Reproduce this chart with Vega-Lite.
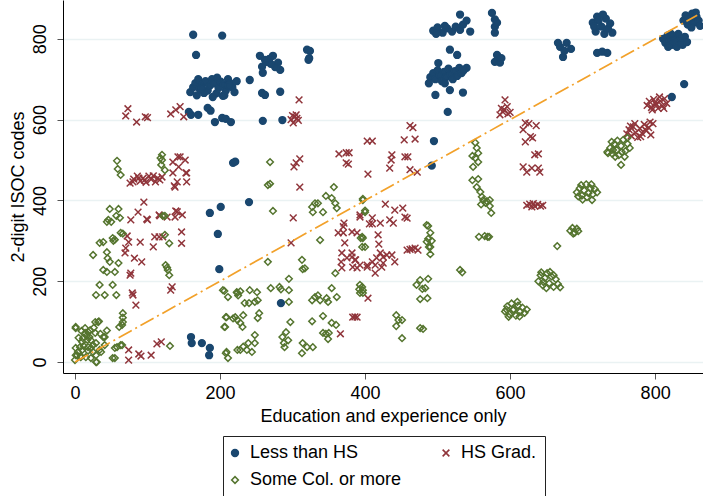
{
  "$schema": "https://vega.github.io/schema/vega-lite/v6.json",
  "width": 640,
  "height": 373,
  "autosize": {"type": "none"},
  "padding": {"left": 63, "top": 0, "right": 0, "bottom": 123},
  "background": "white",
  "config": {
    "font": "Liberation Sans",
    "view": {"stroke": null},
    "axis": {
      "labelFont": "Liberation Sans",
      "titleFont": "Liberation Sans",
      "labelFontSize": 18,
      "titleFontSize": 18,
      "titleFontWeight": "normal",
      "labelColor": "black",
      "titleColor": "black",
      "domainColor": "black",
      "domainWidth": 1,
      "tickColor": "#555555",
      "tickSize": 6,
      "tickWidth": 1,
      "gridColor": "#eaf2f3",
      "gridWidth": 1.5
    },
    "legend": {
      "labelFont": "Liberation Sans",
      "labelFontSize": 18,
      "labelColor": "black",
      "symbolSize": 34,
      "symbolStrokeWidth": 1.6
    }
  },
  "layer": [
    {
      "data": {
        "values": [
          {"x":163,"y":810,"g":"Less than HS"},{"x":203,"y":808,"g":"Less than HS"},{"x":167,"y":760,"g":"Less than HS"},
          {"x":159,"y":668,"g":"Less than HS"},{"x":163,"y":680,"g":"Less than HS"},{"x":166,"y":690,"g":"Less than HS"},{"x":170,"y":700,"g":"Less than HS"},{"x":172,"y":676,"g":"Less than HS"},{"x":176,"y":688,"g":"Less than HS"},{"x":180,"y":695,"g":"Less than HS"},{"x":183,"y":672,"g":"Less than HS"},{"x":186,"y":684,"g":"Less than HS"},{"x":189,"y":700,"g":"Less than HS"},{"x":192,"y":690,"g":"Less than HS"},{"x":195,"y":665,"g":"Less than HS"},{"x":198,"y":678,"g":"Less than HS"},{"x":201,"y":694,"g":"Less than HS"},{"x":205,"y":686,"g":"Less than HS"},{"x":208,"y":672,"g":"Less than HS"},{"x":211,"y":700,"g":"Less than HS"},{"x":214,"y":690,"g":"Less than HS"},{"x":217,"y":680,"g":"Less than HS"},{"x":220,"y":668,"g":"Less than HS"},{"x":223,"y":695,"g":"Less than HS"},{"x":168,"y":660,"g":"Less than HS"},{"x":190,"y":656,"g":"Less than HS"},{"x":206,"y":660,"g":"Less than HS"},{"x":178,"y":666,"g":"Less than HS"},{"x":196,"y":704,"g":"Less than HS"},{"x":212,"y":684,"g":"Less than HS"},{"x":175,"y":678,"g":"Less than HS"},
          {"x":157,"y":619,"g":"Less than HS"},{"x":160,"y":612,"g":"Less than HS"},{"x":170,"y":612,"g":"Less than HS"},{"x":183,"y":629,"g":"Less than HS"},{"x":187,"y":622,"g":"Less than HS"},{"x":193,"y":594,"g":"Less than HS"},{"x":203,"y":604,"g":"Less than HS"},{"x":208,"y":602,"g":"Less than HS"},{"x":215,"y":594,"g":"Less than HS"},{"x":204,"y":659,"g":"Less than HS"},{"x":218,"y":493,"g":"Less than HS"},{"x":221,"y":496,"g":"Less than HS"},
          {"x":241,"y":698,"g":"Less than HS"},{"x":258,"y":666,"g":"Less than HS"},{"x":262,"y":661,"g":"Less than HS"},{"x":283,"y":669,"g":"Less than HS"},{"x":259,"y":597,"g":"Less than HS"},{"x":286,"y":599,"g":"Less than HS"},
          {"x":255,"y":758,"g":"Less than HS"},{"x":264,"y":743,"g":"Less than HS"},{"x":273,"y":758,"g":"Less than HS"},{"x":280,"y":741,"g":"Less than HS"},{"x":258,"y":731,"g":"Less than HS"},{"x":259,"y":716,"g":"Less than HS"},{"x":283,"y":723,"g":"Less than HS"},{"x":268,"y":750,"g":"Less than HS"},{"x":276,"y":730,"g":"Less than HS"},{"x":270,"y":738,"g":"Less than HS"},{"x":262,"y":748,"g":"Less than HS"},
          {"x":320,"y":773,"g":"Less than HS"},{"x":322,"y":748,"g":"Less than HS"},{"x":324,"y":770,"g":"Less than HS"},{"x":323,"y":752,"g":"Less than HS"},
          {"x":186,"y":369,"g":"Less than HS"},{"x":201,"y":384,"g":"Less than HS"},{"x":197,"y":317,"g":"Less than HS"},{"x":199,"y":230,"g":"Less than HS"},{"x":160,"y":62,"g":"Less than HS"},{"x":161,"y":47,"g":"Less than HS"},{"x":175,"y":47,"g":"Less than HS"},{"x":186,"y":35,"g":"Less than HS"},{"x":185,"y":17,"g":"Less than HS"},{"x":240,"y":396,"g":"Less than HS"},{"x":284,"y":146,"g":"Less than HS"},
          {"x":494,"y":820,"g":"Less than HS"},{"x":500,"y":828,"g":"Less than HS"},{"x":507,"y":815,"g":"Less than HS"},{"x":513,"y":826,"g":"Less than HS"},{"x":520,"y":818,"g":"Less than HS"},{"x":525,"y":830,"g":"Less than HS"},{"x":531,"y":822,"g":"Less than HS"},{"x":498,"y":812,"g":"Less than HS"},{"x":510,"y":832,"g":"Less than HS"},
          {"x":517,"y":773,"g":"Less than HS"},{"x":527,"y":760,"g":"Less than HS"},{"x":501,"y":740,"g":"Less than HS"},
          {"x":490,"y":705,"g":"Less than HS"},{"x":494,"y":715,"g":"Less than HS"},{"x":497,"y":700,"g":"Less than HS"},{"x":500,"y":722,"g":"Less than HS"},{"x":503,"y":710,"g":"Less than HS"},{"x":506,"y":695,"g":"Less than HS"},{"x":509,"y":718,"g":"Less than HS"},{"x":512,"y":705,"g":"Less than HS"},{"x":515,"y":726,"g":"Less than HS"},{"x":518,"y":712,"g":"Less than HS"},{"x":521,"y":700,"g":"Less than HS"},{"x":524,"y":720,"g":"Less than HS"},{"x":527,"y":708,"g":"Less than HS"},{"x":530,"y":728,"g":"Less than HS"},{"x":533,"y":715,"g":"Less than HS"},{"x":488,"y":690,"g":"Less than HS"},{"x":510,"y":690,"g":"Less than HS"},{"x":536,"y":722,"g":"Less than HS"},{"x":540,"y":728,"g":"Less than HS"},{"x":535,"y":723,"g":"Less than HS"},
          {"x":497,"y":661,"g":"Less than HS"},{"x":517,"y":673,"g":"Less than HS"},{"x":514,"y":619,"g":"Less than HS"},{"x":495,"y":547,"g":"Less than HS"},{"x":492,"y":486,"g":"Less than HS"},
          {"x":575,"y":864,"g":"Less than HS"},{"x":579,"y":848,"g":"Less than HS"},{"x":579,"y":830,"g":"Less than HS"},{"x":582,"y":840,"g":"Less than HS"},{"x":579,"y":815,"g":"Less than HS"},{"x":535,"y":835,"g":"Less than HS"},{"x":545,"y":818,"g":"Less than HS"},{"x":531,"y":860,"g":"Less than HS"},{"x":540,"y":845,"g":"Less than HS"},
          {"x":582,"y":760,"g":"Less than HS"},{"x":579,"y":743,"g":"Less than HS"},{"x":586,"y":741,"g":"Less than HS"},{"x":588,"y":752,"g":"Less than HS"},{"x":535,"y":667,"g":"Less than HS"},
          {"x":669,"y":780,"g":"Less than HS"},{"x":678,"y":790,"g":"Less than HS"},{"x":673,"y":755,"g":"Less than HS"},{"x":675,"y":770,"g":"Less than HS"},{"x":684,"y":775,"g":"Less than HS"},{"x":666,"y":790,"g":"Less than HS"},
          {"x":714,"y":840,"g":"Less than HS"},{"x":720,"y":855,"g":"Less than HS"},{"x":726,"y":830,"g":"Less than HS"},{"x":732,"y":850,"g":"Less than HS"},{"x":738,"y":838,"g":"Less than HS"},{"x":741,"y":815,"g":"Less than HS"},{"x":718,"y":818,"g":"Less than HS"},{"x":730,"y":812,"g":"Less than HS"},{"x":722,"y":845,"g":"Less than HS"},{"x":735,"y":825,"g":"Less than HS"},{"x":728,"y":860,"g":"Less than HS"},{"x":716,"y":830,"g":"Less than HS"},
          {"x":720,"y":765,"g":"Less than HS"},{"x":734,"y":765,"g":"Less than HS"},{"x":727,"y":768,"g":"Less than HS"},
          {"x":811,"y":800,"g":"Less than HS"},{"x":814,"y":790,"g":"Less than HS"},{"x":817,"y":808,"g":"Less than HS"},{"x":820,"y":795,"g":"Less than HS"},{"x":823,"y":785,"g":"Less than HS"},{"x":826,"y":803,"g":"Less than HS"},{"x":829,"y":790,"g":"Less than HS"},{"x":832,"y":812,"g":"Less than HS"},{"x":835,"y":798,"g":"Less than HS"},{"x":838,"y":785,"g":"Less than HS"},{"x":841,"y":805,"g":"Less than HS"},{"x":844,"y":792,"g":"Less than HS"},{"x":818,"y":780,"g":"Less than HS"},{"x":830,"y":780,"g":"Less than HS"},{"x":822,"y":812,"g":"Less than HS"},{"x":836,"y":788,"g":"Less than HS"},
          {"x":839,"y":845,"g":"Less than HS"},{"x":842,"y":858,"g":"Less than HS"},{"x":845,"y":835,"g":"Less than HS"},{"x":848,"y":850,"g":"Less than HS"},{"x":851,"y":862,"g":"Less than HS"},{"x":854,"y":840,"g":"Less than HS"},{"x":857,"y":855,"g":"Less than HS"},{"x":860,"y":845,"g":"Less than HS"},{"x":862,"y":832,"g":"Less than HS"},{"x":850,"y":828,"g":"Less than HS"},{"x":844,"y":848,"g":"Less than HS"},{"x":856,"y":865,"g":"Less than HS"},
          {"x":840,"y":688,"g":"Less than HS"},{"x":823,"y":656,"g":"Less than HS"},

          {"x":73,"y":627,"g":"HS Grad."},{"x":70,"y":609,"g":"HS Grad."},{"x":85,"y":594,"g":"HS Grad."},{"x":97,"y":607,"g":"HS Grad."},{"x":100,"y":605,"g":"HS Grad."},{"x":132,"y":614,"g":"HS Grad."},{"x":145,"y":632,"g":"HS Grad."},{"x":139,"y":624,"g":"HS Grad."},{"x":150,"y":607,"g":"HS Grad."},
          {"x":76,"y":443,"g":"HS Grad."},{"x":81,"y":453,"g":"HS Grad."},{"x":86,"y":460,"g":"HS Grad."},{"x":90,"y":448,"g":"HS Grad."},{"x":94,"y":455,"g":"HS Grad."},{"x":98,"y":445,"g":"HS Grad."},{"x":102,"y":460,"g":"HS Grad."},{"x":105,"y":452,"g":"HS Grad."},{"x":108,"y":461,"g":"HS Grad."},{"x":111,"y":446,"g":"HS Grad."},{"x":114,"y":455,"g":"HS Grad."},{"x":117,"y":451,"g":"HS Grad."},{"x":120,"y":458,"g":"HS Grad."},{"x":80,"y":446,"g":"HS Grad."},{"x":88,"y":455,"g":"HS Grad."},{"x":96,"y":450,"g":"HS Grad."},
          {"x":135,"y":495,"g":"HS Grad."},{"x":145,"y":508,"g":"HS Grad."},{"x":152,"y":500,"g":"HS Grad."},{"x":142,"y":508,"g":"HS Grad."},{"x":143,"y":483,"g":"HS Grad."},{"x":135,"y":468,"g":"HS Grad."},{"x":154,"y":468,"g":"HS Grad."},{"x":141,"y":446,"g":"HS Grad."},{"x":137,"y":436,"g":"HS Grad."},{"x":154,"y":446,"g":"HS Grad."},{"x":153,"y":468,"g":"HS Grad."},{"x":138,"y":433,"g":"HS Grad."},
          {"x":95,"y":396,"g":"HS Grad."},{"x":87,"y":371,"g":"HS Grad."},{"x":77,"y":352,"g":"HS Grad."},{"x":99,"y":354,"g":"HS Grad."},{"x":117,"y":362,"g":"HS Grad."},{"x":139,"y":374,"g":"HS Grad."},{"x":148,"y":364,"g":"HS Grad."},{"x":138,"y":359,"g":"HS Grad."},{"x":127,"y":359,"g":"HS Grad."},{"x":141,"y":372,"g":"HS Grad."},{"x":100,"y":352,"g":"HS Grad."},{"x":116,"y":364,"g":"HS Grad."},
          {"x":72,"y":312,"g":"HS Grad."},{"x":74,"y":297,"g":"HS Grad."},{"x":70,"y":282,"g":"HS Grad."},{"x":69,"y":270,"g":"HS Grad."},{"x":90,"y":297,"g":"HS Grad."},{"x":82,"y":257,"g":"HS Grad."},{"x":92,"y":248,"g":"HS Grad."},{"x":76,"y":215,"g":"HS Grad."},{"x":110,"y":310,"g":"HS Grad."},{"x":121,"y":310,"g":"HS Grad."},{"x":116,"y":310,"g":"HS Grad."},{"x":108,"y":285,"g":"HS Grad."},{"x":147,"y":322,"g":"HS Grad."},{"x":147,"y":294,"g":"HS Grad."},{"x":134,"y":186,"g":"HS Grad."},{"x":132,"y":178,"g":"HS Grad."},{"x":80,"y":166,"g":"HS Grad."},{"x":84,"y":141,"g":"HS Grad."},{"x":77,"y":220,"g":"HS Grad."},{"x":79,"y":171,"g":"HS Grad."},
          {"x":74,"y":30,"g":"HS Grad."},{"x":74,"y":5,"g":"HS Grad."},{"x":88,"y":20,"g":"HS Grad."},{"x":91,"y":15,"g":"HS Grad."},{"x":105,"y":17,"g":"HS Grad."},{"x":113,"y":45,"g":"HS Grad."},{"x":119,"y":50,"g":"HS Grad."},
          {"x":309,"y":649,"g":"HS Grad."},{"x":303,"y":607,"g":"HS Grad."},{"x":298,"y":600,"g":"HS Grad."},{"x":306,"y":603,"g":"HS Grad."},{"x":301,"y":592,"g":"HS Grad."},{"x":305,"y":612,"g":"HS Grad."},{"x":300,"y":610,"g":"HS Grad."},{"x":308,"y":598,"g":"HS Grad."},
          {"x":305,"y":493,"g":"HS Grad."},{"x":302,"y":483,"g":"HS Grad."},{"x":310,"y":503,"g":"HS Grad."},{"x":310,"y":433,"g":"HS Grad."},
          {"x":364,"y":515,"g":"HS Grad."},{"x":374,"y":518,"g":"HS Grad."},{"x":378,"y":518,"g":"HS Grad."},{"x":374,"y":493,"g":"HS Grad."},{"x":377,"y":490,"g":"HS Grad."},{"x":404,"y":465,"g":"HS Grad."},{"x":403,"y":547,"g":"HS Grad."},{"x":410,"y":547,"g":"HS Grad."},{"x":462,"y":585,"g":"HS Grad."},{"x":466,"y":580,"g":"HS Grad."},{"x":454,"y":550,"g":"HS Grad."},{"x":469,"y":552,"g":"HS Grad."},{"x":437,"y":513,"g":"HS Grad."},{"x":436,"y":500,"g":"HS Grad."},{"x":434,"y":480,"g":"HS Grad."},{"x":455,"y":508,"g":"HS Grad."},{"x":459,"y":508,"g":"HS Grad."},{"x":462,"y":476,"g":"HS Grad."},{"x":472,"y":470,"g":"HS Grad."},
          {"x":428,"y":391,"g":"HS Grad."},{"x":441,"y":376,"g":"HS Grad."},{"x":452,"y":381,"g":"HS Grad."},{"x":393,"y":364,"g":"HS Grad."},{"x":410,"y":357,"g":"HS Grad."},{"x":371,"y":344,"g":"HS Grad."},{"x":370,"y":335,"g":"HS Grad."},{"x":406,"y":342,"g":"HS Grad."},{"x":410,"y":342,"g":"HS Grad."},{"x":421,"y":344,"g":"HS Grad."},{"x":434,"y":352,"g":"HS Grad."},{"x":439,"y":344,"g":"HS Grad."},{"x":455,"y":359,"g":"HS Grad."},{"x":458,"y":356,"g":"HS Grad."},{"x":363,"y":320,"g":"HS Grad."},{"x":370,"y":320,"g":"HS Grad."},{"x":382,"y":322,"g":"HS Grad."},{"x":389,"y":320,"g":"HS Grad."},{"x":418,"y":315,"g":"HS Grad."},{"x":372,"y":295,"g":"HS Grad."},{"x":419,"y":292,"g":"HS Grad."},
          {"x":301,"y":357,"g":"HS Grad."},{"x":298,"y":295,"g":"HS Grad."},{"x":368,"y":270,"g":"HS Grad."},{"x":375,"y":258,"g":"HS Grad."},{"x":382,"y":270,"g":"HS Grad."},{"x":386,"y":253,"g":"HS Grad."},{"x":383,"y":235,"g":"HS Grad."},{"x":393,"y":240,"g":"HS Grad."},{"x":368,"y":233,"g":"HS Grad."},{"x":403,"y":235,"g":"HS Grad."},{"x":367,"y":248,"g":"HS Grad."},{"x":382,"y":260,"g":"HS Grad."},{"x":387,"y":253,"g":"HS Grad."},{"x":389,"y":233,"g":"HS Grad."},{"x":403,"y":240,"g":"HS Grad."},{"x":410,"y":248,"g":"HS Grad."},{"x":414,"y":240,"g":"HS Grad."},{"x":416,"y":258,"g":"HS Grad."},{"x":421,"y":270,"g":"HS Grad."},{"x":425,"y":260,"g":"HS Grad."},{"x":430,"y":265,"g":"HS Grad."},{"x":437,"y":265,"g":"HS Grad."},{"x":441,"y":248,"g":"HS Grad."},{"x":425,"y":245,"g":"HS Grad."},{"x":423,"y":235,"g":"HS Grad."},{"x":414,"y":220,"g":"HS Grad."},{"x":458,"y":277,"g":"HS Grad."},{"x":465,"y":280,"g":"HS Grad."},{"x":469,"y":282,"g":"HS Grad."},{"x":473,"y":277,"g":"HS Grad."},{"x":462,"y":279,"g":"HS Grad."},{"x":404,"y":158,"g":"HS Grad."},{"x":383,"y":111,"g":"HS Grad."},{"x":389,"y":111,"g":"HS Grad."},{"x":386,"y":112,"g":"HS Grad."},{"x":366,"y":70,"g":"HS Grad."},{"x":393,"y":359,"g":"HS Grad."},
          {"x":590,"y":619,"g":"HS Grad."},{"x":593,"y":649,"g":"HS Grad."},{"x":586,"y":612,"g":"HS Grad."},{"x":592,"y":625,"g":"HS Grad."},{"x":596,"y":632,"g":"HS Grad."},{"x":600,"y":618,"g":"HS Grad."},{"x":588,"y":628,"g":"HS Grad."},{"x":597,"y":614,"g":"HS Grad."},
          {"x":621,"y":592,"g":"HS Grad."},{"x":626,"y":590,"g":"HS Grad."},{"x":636,"y":585,"g":"HS Grad."},{"x":618,"y":575,"g":"HS Grad."},{"x":628,"y":558,"g":"HS Grad."},{"x":631,"y":555,"g":"HS Grad."},{"x":621,"y":545,"g":"HS Grad."},{"x":634,"y":513,"g":"HS Grad."},{"x":639,"y":515,"g":"HS Grad."},{"x":618,"y":483,"g":"HS Grad."},{"x":623,"y":470,"g":"HS Grad."},{"x":630,"y":480,"g":"HS Grad."},{"x":639,"y":480,"g":"HS Grad."},{"x":641,"y":470,"g":"HS Grad."},
          {"x":761,"y":565,"g":"HS Grad."},{"x":764,"y":575,"g":"HS Grad."},{"x":767,"y":560,"g":"HS Grad."},{"x":770,"y":582,"g":"HS Grad."},{"x":773,"y":568,"g":"HS Grad."},{"x":776,"y":556,"g":"HS Grad."},{"x":779,"y":578,"g":"HS Grad."},{"x":782,"y":566,"g":"HS Grad."},{"x":785,"y":588,"g":"HS Grad."},{"x":788,"y":572,"g":"HS Grad."},{"x":791,"y":580,"g":"HS Grad."},{"x":794,"y":562,"g":"HS Grad."},{"x":797,"y":590,"g":"HS Grad."},{"x":793,"y":594,"g":"HS Grad."},{"x":772,"y":590,"g":"HS Grad."},{"x":780,"y":558,"g":"HS Grad."},{"x":766,"y":584,"g":"HS Grad."},{"x":786,"y":576,"g":"HS Grad."},
          {"x":789,"y":635,"g":"HS Grad."},{"x":792,"y":645,"g":"HS Grad."},{"x":795,"y":630,"g":"HS Grad."},{"x":798,"y":650,"g":"HS Grad."},{"x":801,"y":638,"g":"HS Grad."},{"x":804,"y":628,"g":"HS Grad."},{"x":807,"y":646,"g":"HS Grad."},{"x":810,"y":634,"g":"HS Grad."},{"x":813,"y":652,"g":"HS Grad."},{"x":816,"y":640,"g":"HS Grad."},{"x":806,"y":656,"g":"HS Grad."},{"x":796,"y":624,"g":"HS Grad."},{"x":800,"y":642,"g":"HS Grad."},{"x":812,"y":628,"g":"HS Grad."},
          {"x":634,"y":386,"g":"HS Grad."},{"x":623,"y":388,"g":"HS Grad."},{"x":627,"y":391,"g":"HS Grad."},{"x":630,"y":384,"g":"HS Grad."},{"x":638,"y":390,"g":"HS Grad."},{"x":642,"y":386,"g":"HS Grad."},{"x":645,"y":388,"g":"HS Grad."},{"x":632,"y":392,"g":"HS Grad."},

          {"x":58,"y":498,"g":"Some Col. or more"},{"x":59,"y":478,"g":"Some Col. or more"},{"x":63,"y":463,"g":"Some Col. or more"},{"x":120,"y":513,"g":"Some Col. or more"},{"x":120,"y":500,"g":"Some Col. or more"},{"x":119,"y":488,"g":"Some Col. or more"},{"x":124,"y":475,"g":"Some Col. or more"},{"x":118,"y":505,"g":"Some Col. or more"},
          {"x":48,"y":379,"g":"Some Col. or more"},{"x":46,"y":352,"g":"Some Col. or more"},{"x":50,"y":347,"g":"Some Col. or more"},{"x":62,"y":357,"g":"Some Col. or more"},{"x":121,"y":362,"g":"Some Col. or more"},{"x":124,"y":362,"g":"Some Col. or more"},{"x":60,"y":379,"g":"Some Col. or more"},{"x":57,"y":362,"g":"Some Col. or more"},{"x":44,"y":347,"g":"Some Col. or more"},{"x":52,"y":307,"g":"Some Col. or more"},{"x":55,"y":303,"g":"Some Col. or more"},{"x":53,"y":300,"g":"Some Col. or more"},{"x":63,"y":320,"g":"Some Col. or more"},{"x":66,"y":318,"g":"Some Col. or more"},{"x":34,"y":295,"g":"Some Col. or more"},{"x":39,"y":297,"g":"Some Col. or more"},{"x":25,"y":265,"g":"Some Col. or more"},{"x":44,"y":272,"g":"Some Col. or more"},{"x":45,"y":257,"g":"Some Col. or more"},{"x":48,"y":248,"g":"Some Col. or more"},{"x":60,"y":245,"g":"Some Col. or more"},{"x":39,"y":228,"g":"Some Col. or more"},{"x":44,"y":223,"g":"Some Col. or more"},{"x":55,"y":223,"g":"Some Col. or more"},{"x":34,"y":191,"g":"Some Col. or more"},{"x":52,"y":191,"g":"Some Col. or more"},{"x":29,"y":166,"g":"Some Col. or more"},{"x":41,"y":166,"g":"Some Col. or more"},{"x":57,"y":166,"g":"Some Col. or more"},{"x":124,"y":315,"g":"Some Col. or more"},{"x":130,"y":294,"g":"Some Col. or more"},{"x":125,"y":240,"g":"Some Col. or more"},{"x":128,"y":228,"g":"Some Col. or more"},{"x":130,"y":215,"g":"Some Col. or more"},{"x":127,"y":234,"g":"Some Col. or more"},
          {"x":66,"y":121,"g":"Some Col. or more"},{"x":66,"y":110,"g":"Some Col. or more"},{"x":65,"y":92,"g":"Some Col. or more"},{"x":61,"y":87,"g":"Some Col. or more"},{"x":66,"y":99,"g":"Some Col. or more"},
          {"x":1,"y":87,"g":"Some Col. or more"},{"x":9,"y":77,"g":"Some Col. or more"},{"x":14,"y":72,"g":"Some Col. or more"},{"x":18,"y":75,"g":"Some Col. or more"},{"x":28,"y":99,"g":"Some Col. or more"},{"x":33,"y":101,"g":"Some Col. or more"},{"x":17,"y":55,"g":"Some Col. or more"},{"x":7,"y":37,"g":"Some Col. or more"},{"x":12,"y":40,"g":"Some Col. or more"},{"x":18,"y":37,"g":"Some Col. or more"},{"x":25,"y":42,"g":"Some Col. or more"},{"x":41,"y":62,"g":"Some Col. or more"},{"x":34,"y":30,"g":"Some Col. or more"},{"x":3,"y":17,"g":"Some Col. or more"},{"x":8,"y":15,"g":"Some Col. or more"},{"x":15,"y":12,"g":"Some Col. or more"},{"x":30,"y":0,"g":"Some Col. or more"},{"x":58,"y":37,"g":"Some Col. or more"},{"x":55,"y":10,"g":"Some Col. or more"},{"x":65,"y":42,"g":"Some Col. or more"},{"x":1,"y":84,"g":"Some Col. or more"},{"x":14,"y":84,"g":"Some Col. or more"},{"x":21,"y":79,"g":"Some Col. or more"},{"x":28,"y":72,"g":"Some Col. or more"},{"x":32,"y":99,"g":"Some Col. or more"},{"x":11,"y":59,"g":"Some Col. or more"},{"x":16,"y":65,"g":"Some Col. or more"},{"x":22,"y":54,"g":"Some Col. or more"},{"x":29,"y":47,"g":"Some Col. or more"},{"x":39,"y":62,"g":"Some Col. or more"},{"x":41,"y":42,"g":"Some Col. or more"},{"x":22,"y":35,"g":"Some Col. or more"},{"x":4,"y":25,"g":"Some Col. or more"},{"x":1,"y":17,"g":"Some Col. or more"},{"x":8,"y":12,"g":"Some Col. or more"},{"x":0,"y":5,"g":"Some Col. or more"},{"x":22,"y":10,"g":"Some Col. or more"},{"x":29,"y":17,"g":"Some Col. or more"},{"x":36,"y":25,"g":"Some Col. or more"},{"x":1,"y":35,"g":"Some Col. or more"},{"x":29,"y":0,"g":"Some Col. or more"},{"x":52,"y":10,"g":"Some Col. or more"},{"x":63,"y":42,"g":"Some Col. or more"},{"x":55,"y":35,"g":"Some Col. or more"},{"x":10,"y":50,"g":"Some Col. or more"},{"x":20,"y":62,"g":"Some Col. or more"},{"x":26,"y":85,"g":"Some Col. or more"},{"x":35,"y":70,"g":"Some Col. or more"},{"x":5,"y":60,"g":"Some Col. or more"},{"x":44,"y":78,"g":"Some Col. or more"},{"x":18,"y":28,"g":"Some Col. or more"},{"x":10,"y":30,"g":"Some Col. or more"},{"x":25,"y":25,"g":"Some Col. or more"},
          {"x":131,"y":40,"g":"Some Col. or more"},
          {"x":204,"y":178,"g":"Some Col. or more"},{"x":211,"y":161,"g":"Some Col. or more"},{"x":223,"y":173,"g":"Some Col. or more"},{"x":206,"y":87,"g":"Some Col. or more"},{"x":209,"y":111,"g":"Some Col. or more"},{"x":218,"y":108,"g":"Some Col. or more"},{"x":224,"y":104,"g":"Some Col. or more"},{"x":209,"y":25,"g":"Some Col. or more"},{"x":211,"y":10,"g":"Some Col. or more"},{"x":224,"y":30,"g":"Some Col. or more"},
          {"x":266,"y":438,"g":"Some Col. or more"},{"x":269,"y":441,"g":"Some Col. or more"},{"x":273,"y":374,"g":"Some Col. or more"},{"x":269,"y":495,"g":"Some Col. or more"},
          {"x":357,"y":433,"g":"Some Col. or more"},{"x":346,"y":411,"g":"Some Col. or more"},{"x":354,"y":406,"g":"Some Col. or more"},{"x":327,"y":384,"g":"Some Col. or more"},{"x":331,"y":393,"g":"Some Col. or more"},{"x":335,"y":393,"g":"Some Col. or more"},{"x":328,"y":371,"g":"Some Col. or more"},{"x":342,"y":371,"g":"Some Col. or more"},{"x":359,"y":393,"g":"Some Col. or more"},{"x":361,"y":381,"g":"Some Col. or more"},{"x":338,"y":302,"g":"Some Col. or more"},{"x":394,"y":307,"g":"Some Col. or more"},{"x":400,"y":285,"g":"Some Col. or more"},
          {"x":266,"y":248,"g":"Some Col. or more"},{"x":313,"y":253,"g":"Some Col. or more"},{"x":314,"y":230,"g":"Some Col. or more"},{"x":317,"y":232,"g":"Some Col. or more"},{"x":359,"y":220,"g":"Some Col. or more"},{"x":295,"y":206,"g":"Some Col. or more"},
          {"x":206,"y":176,"g":"Some Col. or more"},{"x":224,"y":171,"g":"Some Col. or more"},{"x":225,"y":165,"g":"Some Col. or more"},{"x":228,"y":175,"g":"Some Col. or more"},{"x":241,"y":178,"g":"Some Col. or more"},{"x":251,"y":173,"g":"Some Col. or more"},{"x":234,"y":146,"g":"Some Col. or more"},{"x":240,"y":146,"g":"Some Col. or more"},{"x":248,"y":149,"g":"Some Col. or more"},{"x":252,"y":153,"g":"Some Col. or more"},{"x":270,"y":183,"g":"Some Col. or more"},{"x":282,"y":186,"g":"Some Col. or more"},{"x":284,"y":180,"g":"Some Col. or more"},{"x":295,"y":178,"g":"Some Col. or more"},{"x":295,"y":149,"g":"Some Col. or more"},
          {"x":208,"y":111,"g":"Some Col. or more"},{"x":221,"y":111,"g":"Some Col. or more"},{"x":232,"y":116,"g":"Some Col. or more"},{"x":228,"y":97,"g":"Some Col. or more"},{"x":207,"y":87,"g":"Some Col. or more"},{"x":231,"y":87,"g":"Some Col. or more"},{"x":254,"y":121,"g":"Some Col. or more"},{"x":252,"y":109,"g":"Some Col. or more"},{"x":248,"y":67,"g":"Some Col. or more"},
          {"x":208,"y":22,"g":"Some Col. or more"},{"x":228,"y":30,"g":"Some Col. or more"},{"x":239,"y":47,"g":"Some Col. or more"},{"x":237,"y":30,"g":"Some Col. or more"},{"x":248,"y":47,"g":"Some Col. or more"},{"x":244,"y":25,"g":"Some Col. or more"},{"x":232,"y":38,"g":"Some Col. or more"},
          {"x":297,"y":99,"g":"Some Col. or more"},{"x":291,"y":74,"g":"Some Col. or more"},{"x":286,"y":62,"g":"Some Col. or more"},{"x":288,"y":47,"g":"Some Col. or more"},{"x":294,"y":54,"g":"Some Col. or more"},{"x":289,"y":37,"g":"Some Col. or more"},
          {"x":327,"y":153,"g":"Some Col. or more"},{"x":331,"y":161,"g":"Some Col. or more"},{"x":338,"y":153,"g":"Some Col. or more"},{"x":347,"y":158,"g":"Some Col. or more"},{"x":354,"y":183,"g":"Some Col. or more"},{"x":361,"y":161,"g":"Some Col. or more"},{"x":349,"y":149,"g":"Some Col. or more"},{"x":335,"y":165,"g":"Some Col. or more"},
          {"x":327,"y":101,"g":"Some Col. or more"},{"x":342,"y":114,"g":"Some Col. or more"},{"x":354,"y":97,"g":"Some Col. or more"},{"x":360,"y":92,"g":"Some Col. or more"},{"x":342,"y":72,"g":"Some Col. or more"},{"x":346,"y":70,"g":"Some Col. or more"},{"x":350,"y":72,"g":"Some Col. or more"},{"x":349,"y":57,"g":"Some Col. or more"},
          {"x":314,"y":47,"g":"Some Col. or more"},{"x":320,"y":37,"g":"Some Col. or more"},{"x":313,"y":22,"g":"Some Col. or more"},{"x":328,"y":37,"g":"Some Col. or more"},
          {"x":396,"y":186,"g":"Some Col. or more"},{"x":397,"y":171,"g":"Some Col. or more"},{"x":392,"y":180,"g":"Some Col. or more"},{"x":393,"y":191,"g":"Some Col. or more"},{"x":397,"y":178,"g":"Some Col. or more"},{"x":393,"y":171,"g":"Some Col. or more"},{"x":396,"y":285,"g":"Some Col. or more"},{"x":397,"y":307,"g":"Some Col. or more"},{"x":397,"y":401,"g":"Some Col. or more"},{"x":400,"y":371,"g":"Some Col. or more"},{"x":396,"y":310,"g":"Some Col. or more"},{"x":400,"y":375,"g":"Some Col. or more"},{"x":397,"y":404,"g":"Some Col. or more"},
          {"x":487,"y":337,"g":"Some Col. or more"},{"x":490,"y":320,"g":"Some Col. or more"},{"x":487,"y":305,"g":"Some Col. or more"},{"x":492,"y":300,"g":"Some Col. or more"},{"x":485,"y":298,"g":"Some Col. or more"},{"x":490,"y":285,"g":"Some Col. or more"},{"x":490,"y":267,"g":"Some Col. or more"},{"x":485,"y":339,"g":"Some Col. or more"},{"x":488,"y":285,"g":"Some Col. or more"},
          {"x":476,"y":203,"g":"Some Col. or more"},{"x":471,"y":191,"g":"Some Col. or more"},{"x":479,"y":181,"g":"Some Col. or more"},{"x":483,"y":183,"g":"Some Col. or more"},{"x":487,"y":206,"g":"Some Col. or more"},{"x":476,"y":156,"g":"Some Col. or more"},{"x":486,"y":158,"g":"Some Col. or more"},
          {"x":443,"y":116,"g":"Some Col. or more"},{"x":446,"y":104,"g":"Some Col. or more"},{"x":443,"y":89,"g":"Some Col. or more"},{"x":451,"y":104,"g":"Some Col. or more"},{"x":451,"y":59,"g":"Some Col. or more"},{"x":476,"y":84,"g":"Some Col. or more"},{"x":480,"y":82,"g":"Some Col. or more"},
          {"x":531,"y":228,"g":"Some Col. or more"},{"x":534,"y":222,"g":"Some Col. or more"},
          {"x":552,"y":543,"g":"Some Col. or more"},{"x":554,"y":530,"g":"Some Col. or more"},{"x":556,"y":517,"g":"Some Col. or more"},{"x":548,"y":510,"g":"Some Col. or more"},{"x":552,"y":505,"g":"Some Col. or more"},{"x":556,"y":495,"g":"Some Col. or more"},{"x":549,"y":483,"g":"Some Col. or more"},{"x":548,"y":450,"g":"Some Col. or more"},{"x":556,"y":453,"g":"Some Col. or more"},{"x":554,"y":433,"g":"Some Col. or more"},{"x":561,"y":409,"g":"Some Col. or more"},{"x":563,"y":401,"g":"Some Col. or more"},{"x":566,"y":394,"g":"Some Col. or more"},{"x":572,"y":386,"g":"Some Col. or more"},{"x":574,"y":369,"g":"Some Col. or more"},{"x":559,"y":421,"g":"Some Col. or more"},{"x":557,"y":310,"g":"Some Col. or more"},{"x":569,"y":310,"g":"Some Col. or more"},{"x":571,"y":310,"g":"Some Col. or more"},{"x":565,"y":312,"g":"Some Col. or more"},{"x":560,"y":390,"g":"Some Col. or more"},{"x":568,"y":398,"g":"Some Col. or more"},{"x":572,"y":401,"g":"Some Col. or more"},
          {"x":734,"y":520,"g":"Some Col. or more"},{"x":738,"y":530,"g":"Some Col. or more"},{"x":741,"y":515,"g":"Some Col. or more"},{"x":744,"y":540,"g":"Some Col. or more"},{"x":747,"y":525,"g":"Some Col. or more"},{"x":750,"y":512,"g":"Some Col. or more"},{"x":753,"y":535,"g":"Some Col. or more"},{"x":756,"y":550,"g":"Some Col. or more"},{"x":759,"y":522,"g":"Some Col. or more"},{"x":762,"y":540,"g":"Some Col. or more"},{"x":765,"y":530,"g":"Some Col. or more"},{"x":740,"y":545,"g":"Some Col. or more"},{"x":748,"y":548,"g":"Some Col. or more"},{"x":758,"y":508,"g":"Some Col. or more"},{"x":745,"y":508,"g":"Some Col. or more"},{"x":735,"y":517,"g":"Some Col. or more"},{"x":753,"y":488,"g":"Some Col. or more"},{"x":762,"y":555,"g":"Some Col. or more"},{"x":742,"y":525,"g":"Some Col. or more"},{"x":754,"y":520,"g":"Some Col. or more"},
          {"x":692,"y":420,"g":"Some Col. or more"},{"x":696,"y":430,"g":"Some Col. or more"},{"x":699,"y":412,"g":"Some Col. or more"},{"x":702,"y":425,"g":"Some Col. or more"},{"x":705,"y":440,"g":"Some Col. or more"},{"x":708,"y":418,"g":"Some Col. or more"},{"x":711,"y":430,"g":"Some Col. or more"},{"x":714,"y":415,"g":"Some Col. or more"},{"x":717,"y":428,"g":"Some Col. or more"},{"x":720,"y":420,"g":"Some Col. or more"},{"x":700,"y":402,"g":"Some Col. or more"},{"x":713,"y":401,"g":"Some Col. or more"},{"x":694,"y":410,"g":"Some Col. or more"},{"x":706,"y":408,"g":"Some Col. or more"},{"x":712,"y":440,"g":"Some Col. or more"},{"x":698,"y":438,"g":"Some Col. or more"},
          {"x":683,"y":325,"g":"Some Col. or more"},{"x":686,"y":332,"g":"Some Col. or more"},{"x":689,"y":320,"g":"Some Col. or more"},{"x":692,"y":330,"g":"Some Col. or more"},{"x":694,"y":324,"g":"Some Col. or more"},{"x":687,"y":318,"g":"Some Col. or more"},{"x":665,"y":287,"g":"Some Col. or more"},
          {"x":639,"y":200,"g":"Some Col. or more"},{"x":642,"y":215,"g":"Some Col. or more"},{"x":645,"y":190,"g":"Some Col. or more"},{"x":648,"y":208,"g":"Some Col. or more"},{"x":651,"y":220,"g":"Some Col. or more"},{"x":654,"y":195,"g":"Some Col. or more"},{"x":657,"y":212,"g":"Some Col. or more"},{"x":660,"y":186,"g":"Some Col. or more"},{"x":663,"y":205,"g":"Some Col. or more"},{"x":666,"y":193,"g":"Some Col. or more"},{"x":669,"y":185,"g":"Some Col. or more"},{"x":643,"y":222,"g":"Some Col. or more"},{"x":655,"y":223,"g":"Some Col. or more"},{"x":660,"y":215,"g":"Some Col. or more"},{"x":646,"y":198,"g":"Some Col. or more"},{"x":650,"y":183,"g":"Some Col. or more"},
          {"x":593,"y":125,"g":"Some Col. or more"},{"x":596,"y":138,"g":"Some Col. or more"},{"x":599,"y":118,"g":"Some Col. or more"},{"x":602,"y":145,"g":"Some Col. or more"},{"x":605,"y":130,"g":"Some Col. or more"},{"x":608,"y":115,"g":"Some Col. or more"},{"x":611,"y":140,"g":"Some Col. or more"},{"x":614,"y":125,"g":"Some Col. or more"},{"x":617,"y":135,"g":"Some Col. or more"},{"x":620,"y":122,"g":"Some Col. or more"},{"x":623,"y":130,"g":"Some Col. or more"},{"x":604,"y":129,"g":"Some Col. or more"},{"x":598,"y":112,"g":"Some Col. or more"},{"x":610,"y":149,"g":"Some Col. or more"},{"x":613,"y":113,"g":"Some Col. or more"},{"x":595,"y":130,"g":"Some Col. or more"}
        ]
      },
      "mark": {"type": "point", "filled": false, "opacity": 1, "strokeWidth": 1.5},
      "encoding": {
        "x": {
          "field": "x",
          "type": "quantitative",
          "scale": {"domain": [-16.5, 866], "nice": false, "zero": false},
          "axis": {
            "values": [0, 200, 400, 600, 800],
            "grid": false,
            "title": "Education and experience only",
            "labelPadding": 5,
            "titlePadding": 5
          }
        },
        "y": {
          "field": "y",
          "type": "quantitative",
          "scale": {"domain": [-27, 896], "nice": false, "zero": false},
          "axis": {
            "values": [0, 200, 400, 600, 800],
            "grid": true,
            "title": "2-digit ISOC codes",
            "labelAngle": -90,
            "labelAlign": "center",
            "labelBaseline": "bottom",
            "labelPadding": 8,
            "titlePadding": 4
          }
        },
        "color": {
          "field": "g",
          "type": "nominal",
          "scale": {
            "domain": ["Less than HS", "HS Grad.", "Some Col. or more"],
            "range": ["#1a476f", "#90353b", "#55752f"]
          },
          "legend": {
            "title": null,
            "orient": "none",
            "legendX": 160,
            "legendY": 436,
            "direction": "horizontal",
            "columns": 2,
            "strokeColor": "#222222",
            "padding": 8,
            "rowPadding": 9,
            "columnPadding": 37,
            "labelOffset": 6,
            "symbolOffset": -5
          }
        },
        "fill": {
          "field": "g",
          "type": "nominal",
          "scale": {
            "domain": ["Less than HS", "HS Grad.", "Some Col. or more"],
            "range": ["#1a476f", "transparent", "transparent"]
          },
          "legend": {
            "title": null,
            "orient": "none",
            "legendX": 160,
            "legendY": 436,
            "direction": "horizontal",
            "columns": 2,
            "strokeColor": "#222222",
            "padding": 8,
            "rowPadding": 9,
            "columnPadding": 37,
            "labelOffset": 6,
            "symbolOffset": -5
          }
        },
        "shape": {
          "field": "g",
          "type": "nominal",
          "scale": {
            "domain": ["Less than HS", "HS Grad.", "Some Col. or more"],
            "range": ["circle", "M-1,-1L1,1M-1,1L1,-1", "diamond"]
          },
          "legend": {
            "title": null,
            "orient": "none",
            "legendX": 160,
            "legendY": 436,
            "direction": "horizontal",
            "columns": 2,
            "strokeColor": "#222222",
            "padding": 8,
            "rowPadding": 9,
            "columnPadding": 37,
            "labelOffset": 6,
            "symbolOffset": -5
          }
        },
        "size": {
          "field": "g",
          "type": "ordinal",
          "scale": {
            "domain": ["Less than HS", "HS Grad.", "Some Col. or more"],
            "range": [46, 44, 90]
          },
          "legend": null
        }
      }
    },
    {
      "data": {"values": [{"x": 0, "y": 0}, {"x": 858, "y": 858}]},
      "mark": {"type": "line", "color": "#f2a12a", "strokeWidth": 1.7, "strokeDash": [15, 4, 2, 4]},
      "encoding": {
        "x": {"field": "x", "type": "quantitative"},
        "y": {"field": "y", "type": "quantitative"}
      }
    }
  ]
}
